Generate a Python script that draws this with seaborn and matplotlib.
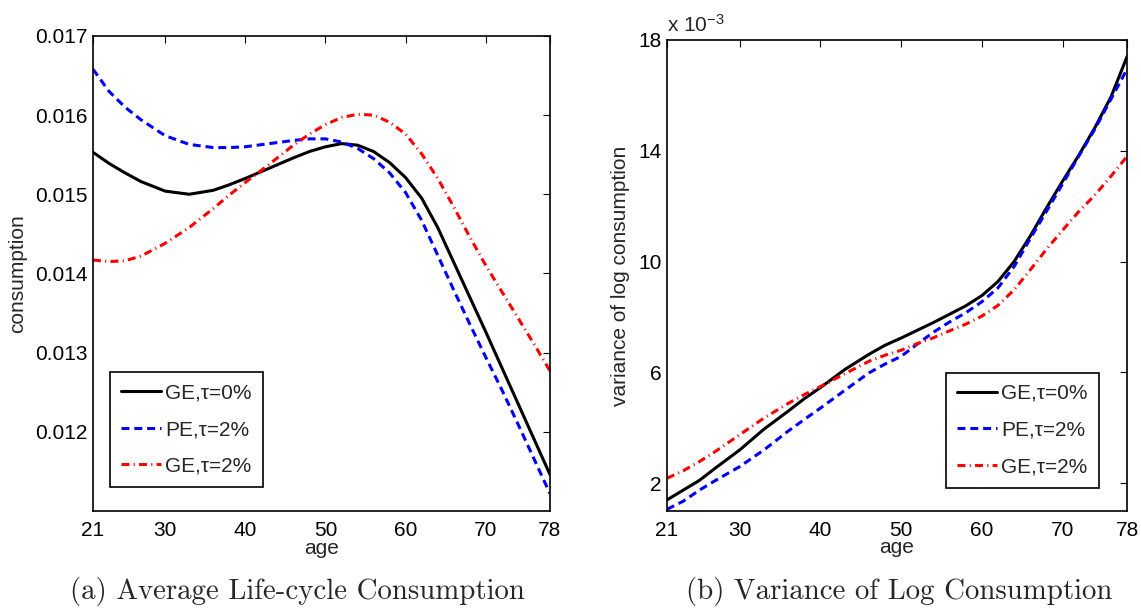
import numpy as np
import matplotlib
matplotlib.use('Agg')
import matplotlib.pyplot as plt
import seaborn as sns

# ages (same grid for both panels)
ages = [21, 23, 25, 27, 30, 33, 36, 38, 40, 43, 46, 48, 50, 52, 54, 56, 58, 60,
        62, 64, 66, 68, 70, 72, 74, 76, 78]

# (a) average consumption, in units of 1e-3
cons_ge0 = [15.53, 15.39, 15.27, 15.16, 15.04, 15.00, 15.05, 15.12, 15.20, 15.33,
            15.46, 15.54, 15.60, 15.64, 15.62, 15.54, 15.40, 15.21, 14.95, 14.58,
            14.14, 13.70, 13.26, 12.81, 12.36, 11.91, 11.46]
cons_pe2 = [16.58, 16.30, 16.10, 15.94, 15.74, 15.63, 15.59, 15.59, 15.60, 15.64,
            15.68, 15.70, 15.70, 15.66, 15.58, 15.45, 15.27, 15.02, 14.67, 14.23,
            13.79, 13.36, 12.94, 12.53, 12.10, 11.66, 11.22]
cons_ge2 = [14.17, 14.15, 14.16, 14.22, 14.38, 14.58, 14.82, 14.99, 15.15, 15.38,
            15.62, 15.76, 15.88, 15.97, 16.01, 16.00, 15.91, 15.76, 15.51, 15.20,
            14.84, 14.46, 14.10, 13.77, 13.44, 13.11, 12.77]

# (b) variance of log consumption, in units of 1e-3
var_ge0 = [1.40, 1.75, 2.10, 2.55, 3.20, 3.95, 4.60, 5.05, 5.45, 6.10, 6.65, 6.98,
           7.24, 7.52, 7.80, 8.10, 8.40, 8.77, 9.28, 10.00, 10.92, 11.93, 12.90,
           13.83, 14.83, 15.94, 17.40]
var_pe2 = [1.06, 1.35, 1.75, 2.10, 2.60, 3.20, 3.88, 4.30, 4.71, 5.35, 5.98, 6.30,
           6.58, 7.02, 7.45, 7.82, 8.15, 8.55, 9.05, 9.82, 10.83, 11.81, 12.80,
           13.80, 14.78, 15.86, 16.95]
var_ge2 = [2.18, 2.45, 2.78, 3.15, 3.75, 4.35, 4.88, 5.20, 5.49, 5.95, 6.40, 6.62,
           6.80, 7.04, 7.25, 7.50, 7.74, 8.03, 8.42, 8.98, 9.70, 10.44, 11.13, 11.80,
           12.40, 13.08, 13.80]

labels = ['GE,\u03c4=0%', 'PE,\u03c4=2%', 'GE,\u03c4=2%']
xticks = [21, 30, 40, 50, 60, 70, 78]

sns.set_style('white')
plt.rcParams['font.family'] = ['Liberation Sans', 'DejaVu Sans']
plt.rcParams['mathtext.default'] = 'regular'

FS = 15

fig = plt.figure(figsize=(11.41, 6.09), dpi=100)
ax1 = fig.add_axes([0.0815, 0.161, 0.4005, 0.780])
ax2 = fig.add_axes([0.5846, 0.161, 0.4032, 0.7734])

styles = [dict(color='black', dashes=None),
          dict(color=(0, 0, 1), dashes=(2.6, 1.6)),
          dict(color=(1, 0, 0), dashes=(2.6, 1.4, 0.35, 1.4))]


def draw(ax, series, scale):
    for vals, lab, st in zip(series, labels, styles):
        sns.lineplot(x=ages, y=np.array(vals) * scale, ax=ax, color=st['color'],
                     linewidth=2.2, label=lab)
        line = ax.get_lines()[-1]
        if st['dashes'] is not None:
            line.set_dashes(st['dashes'])
    ax.set_xlim(21, 78)
    ax.set_xticks(xticks)
    ax.tick_params(direction='in', length=5, width=0.8, top=True, right=True,
                   labelsize=FS, colors='black')
    ax.tick_params(axis='x', pad=7)
    ax.tick_params(axis='y', pad=4)
    for sp in ax.spines.values():
        sp.set_visible(True)
        sp.set_color('black')
        sp.set_linewidth(1.2)
    ax.set_xlabel('age', fontsize=FS)
    ax.xaxis.set_label_coords(0.5, -0.058)


def legend(ax, loc, anchor):
    leg = ax.legend(loc=loc, bbox_to_anchor=anchor, fontsize=FS,
                    frameon=True, fancybox=False, framealpha=1, edgecolor='black',
                    handlelength=1.9, handletextpad=0.2, labelspacing=0.85,
                    borderpad=0.55, borderaxespad=0)
    leg.get_frame().set_linewidth(1.2)


draw(ax1, [cons_ge0, cons_pe2, cons_ge2], 1e-3)
ax1.set_ylim(0.011, 0.017)
ax1.set_yticks([0.012, 0.013, 0.014, 0.015, 0.016, 0.017])
ax1.set_yticklabels(['0.012', '0.013', '0.014', '0.015', '0.016', '0.017'])
ax1.set_ylabel('consumption', fontsize=FS)
ax1.yaxis.set_label_coords(-0.144, 0.5)
legend(ax1, 'lower left', (0.037, 0.05))

draw(ax2, [var_ge0, var_pe2, var_ge2], 1.0)
ax2.set_ylim(1, 18)
ax2.set_yticks([2, 6, 10, 14, 18])
ax2.set_ylabel('variance of log consumption', fontsize=FS)
ax2.yaxis.set_label_coords(-0.080, 0.5)
ax2.text(0.0, 1.008, 'x 10$^{-3}$', transform=ax2.transAxes, fontsize=FS,
         ha='left', va='bottom')
legend(ax2, 'lower right', (0.939, 0.049))

fig.text(0.261, 0.028, '(a) Average Life-cycle Consumption', ha='center',
         va='center', fontsize=20.8, family='cmr10')
fig.text(0.788, 0.028, '(b) Variance of Log Consumption', ha='center',
         va='center', fontsize=20.8, family='cmr10')

fig.savefig('out.png', dpi=100, facecolor='white')
